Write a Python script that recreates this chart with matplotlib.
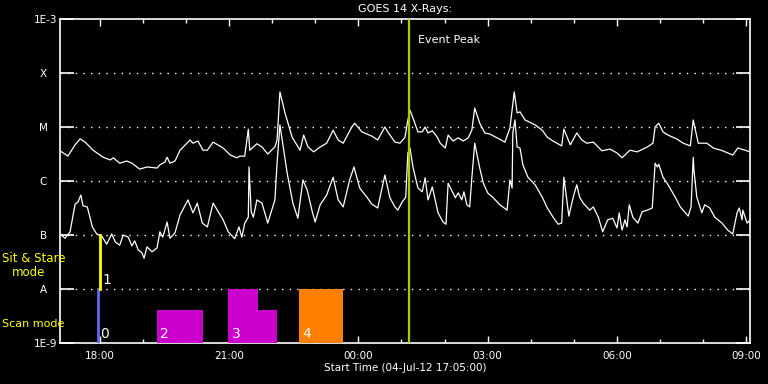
import numpy as np
import matplotlib
matplotlib.use('Agg')
import matplotlib.pyplot as plt
from matplotlib.patches import Rectangle

# GOES 14 X-ray flux, time in minutes after 04-Jul-12 17:05, flux as log10(W/m^2)
t_long = [0, 11, 21, 28, 35, 46, 60, 70, 74, 83, 93, 100, 111, 121, 135, 139, 146, 149, 153, 160,
          167, 181, 185, 192, 199, 205, 213, 227, 237, 246, 250, 257, 262, 264, 274, 281, 289, 299,
          302, 306, 313, 323, 334, 339, 345, 353, 362, 371, 380, 387, 394, 406, 410, 420, 427, 434,
          442, 452, 456, 466, 473, 480, 484, 487, 491, 498, 504, 508, 512, 518, 525, 529, 536, 540,
          547, 554, 561, 568, 573, 577, 584, 591, 598, 608, 619, 626, 632, 636, 640, 647, 661, 671,
          678, 686, 698, 701, 710, 719, 726, 733, 742, 754, 765, 775, 782, 789, 793, 803, 817, 825,
          828, 833, 839, 846, 858, 867, 877, 881, 888, 900, 909, 922, 936, 943, 953, 960]
f_long = [-5.44, -5.54, -5.33, -5.22, -5.28, -5.43, -5.56, -5.61, -5.57, -5.67, -5.63, -5.67, -5.78,
          -5.74, -5.76, -5.70, -5.65, -5.56, -5.67, -5.63, -5.43, -5.24, -5.30, -5.26, -5.43, -5.43,
          -5.28, -5.39, -5.52, -5.57, -5.54, -5.54, -5.04, -5.43, -5.31, -5.37, -5.50, -5.37, -5.24,
          -4.35, -4.74, -5.19, -5.43, -5.15, -5.37, -5.46, -5.37, -5.30, -5.06, -5.24, -5.30, -5.00,
          -4.93, -5.09, -5.13, -5.17, -5.24, -5.00, -5.09, -5.28, -5.30, -5.19, -4.87, -4.69, -4.83,
          -5.09, -5.09, -5.00, -5.11, -5.07, -5.19, -5.30, -5.39, -5.15, -5.26, -5.20, -5.26, -5.20,
          -5.06, -4.65, -4.93, -5.11, -5.13, -5.20, -5.28, -5.02, -4.35, -4.74, -4.72, -4.87, -4.96,
          -5.06, -5.19, -5.26, -5.35, -5.04, -5.33, -5.11, -5.24, -5.30, -5.28, -5.44, -5.41, -5.48,
          -5.57, -5.48, -5.43, -5.46, -5.37, -5.30, -5.00, -4.93, -5.09, -5.15, -5.22, -5.30, -5.35,
          -4.87, -5.30, -5.30, -5.39, -5.44, -5.52, -5.39, -5.43, -5.46]

t_short = [0, 7, 14, 21, 25, 29, 32, 38, 45, 51, 58, 65, 72, 77, 83, 88, 95, 100, 104, 109, 114, 117,
           121, 128, 135, 139, 143, 149, 153, 160, 167, 178, 185, 191, 198, 205, 213, 227, 234, 243,
           249, 253, 257, 262, 263, 266, 269, 274, 281, 289, 299, 302, 306, 316, 324, 331, 338, 344,
           351, 355, 362, 371, 380, 387, 394, 403, 409, 417, 427, 434, 442, 452, 459, 466, 470, 476,
           481, 484, 487, 491, 498, 504, 508, 512, 518, 522, 526, 533, 537, 540, 550, 554, 559, 562,
           566, 570, 573, 577, 584, 589, 595, 602, 612, 622, 626, 629, 630, 633, 636, 640, 644, 651,
           661, 671, 678, 686, 693, 698, 701, 708, 714, 719, 723, 728, 737, 742, 749, 755, 762, 769,
           775, 778, 782, 786, 789, 792, 797, 804, 810, 817, 824, 828, 831, 833, 839, 846, 856, 863,
           870, 874, 878, 881, 882, 886, 893, 897, 904, 911, 921, 929, 936, 942, 945, 949, 950, 956, 960]
f_short = [-6.98, -7.06, -6.94, -6.43, -6.39, -6.26, -6.46, -6.48, -6.85, -6.98, -7.02, -7.17, -6.98,
           -7.13, -7.19, -7.00, -7.04, -7.20, -7.11, -7.28, -7.33, -7.43, -7.22, -7.31, -7.24, -6.94,
           -7.04, -6.76, -7.06, -6.96, -6.63, -6.35, -6.59, -6.41, -6.78, -6.85, -6.41, -6.72, -6.94,
           -7.07, -6.85, -7.04, -6.78, -6.67, -5.74, -6.57, -6.67, -6.35, -6.41, -6.78, -6.35, -5.67,
           -4.96, -5.85, -6.41, -6.69, -5.98, -6.17, -6.57, -6.76, -6.44, -6.26, -5.93, -6.35, -6.48,
           -5.98, -5.74, -6.13, -6.30, -6.43, -6.50, -5.89, -6.31, -6.48, -6.54, -6.39, -6.30, -5.48,
           -5.39, -5.74, -6.13, -6.20, -5.94, -6.35, -6.11, -6.35, -6.59, -6.76, -6.80, -6.04, -6.31,
           -6.22, -6.35, -6.20, -6.44, -6.48, -5.94, -5.30, -5.76, -6.04, -6.22, -6.30, -6.44, -6.54,
           -5.98, -6.13, -5.11, -4.87, -5.37, -5.39, -5.70, -5.93, -6.07, -6.30, -6.50, -6.67, -6.80,
           -6.78, -5.93, -6.65, -6.30, -6.07, -6.30, -6.41, -6.54, -6.48, -6.67, -6.94, -6.72, -6.69,
           -6.87, -6.59, -6.91, -6.72, -6.85, -6.44, -6.67, -6.78, -6.57, -6.54, -6.50, -5.67, -5.74,
           -5.69, -5.93, -6.07, -6.30, -6.48, -6.59, -6.65, -6.48, -5.56, -5.80, -6.30, -6.59, -6.44,
           -6.50, -6.67, -6.78, -6.91, -6.98, -6.59, -6.50, -6.72, -6.54, -6.78, -6.72]

# observing modes: (start min, end min, top log flux, colour, label)
mode_blocks = [(135, 199, -8.39, '#cc00cc', '2'),
               (234, 275, -8.0, '#cc00cc', '3'),
               (275, 302, -8.39, '#cc00cc', None),
               (333, 394, -8.0, '#ff8000', '4')]
scan_line_t = 53
stare_line_t = 56
event_peak_t = 486

start_h = 17 + 5 / 60.0
def to_h(m):
    return start_h + np.asarray(m) / 60.0

plt.rcParams['font.family'] = 'DejaVu Sans'
fig = plt.figure(figsize=(7.68, 3.84), dpi=100, facecolor='black')
ax = fig.add_axes([60 / 768, 1 - 343 / 384, 690 / 768, 324 / 384], facecolor='black')
ax.set_yscale('log')
ax.set_xlim(start_h, start_h + 16)
ax.set_ylim(1e-9, 1e-3)

# class levels, dotted
for lev in [1e-8, 1e-7, 1e-6, 1e-5, 1e-4]:
    ax.axhline(lev, color='white', lw=1, ls=(0, (1, 4.5)))

ax.plot(to_h(t_long), 10 ** np.array(f_long), color='white', lw=0.9)
ax.plot(to_h(t_short), 10 ** np.array(f_short), color='white', lw=0.9)

# mode blocks
for t0, t1, top, c, lab in mode_blocks:
    ax.add_patch(Rectangle((to_h(t0), 1e-9), (t1 - t0) / 60.0, 10 ** top - 1e-9,
                           facecolor=c, edgecolor='none', zorder=3))
    if lab:
        ax.text(to_h(t0) + 0.08, 1.25e-9, lab, color='white', fontsize=10, zorder=4)

ax.plot([to_h(scan_line_t)] * 2, [1e-9, 1e-8], color='#6666ff', lw=2, zorder=4)
ax.plot([to_h(stare_line_t)] * 2, [1e-8, 1e-7], color='#ffff00', lw=2, zorder=4)
ax.text(to_h(scan_line_t) + 0.04, 1.25e-9, '0', color='white', fontsize=10, zorder=5)
ax.text(to_h(stare_line_t) + 0.04, 1.25e-8, '1', color='white', fontsize=10, zorder=5)

ax.axvline(to_h(event_peak_t), color='#a0d000', lw=1.6, zorder=4)
ax.text(to_h(event_peak_t) + 0.2, 4e-4, 'Event Peak', color='white', fontsize=8, va='center')

# axes styling
for s in ax.spines.values():
    s.set_color('white')
    s.set_linewidth(1.2)
ax.set_yticks([1e-9, 1e-8, 1e-7, 1e-6, 1e-5, 1e-4, 1e-3])
ax.set_yticklabels(['1E-9', 'A   ', 'B   ', 'C   ', 'M   ', 'X   ', '1E-3'])
ax.yaxis.set_minor_locator(matplotlib.ticker.NullLocator())
ax.set_xticks([18, 21, 24, 27, 30, 33])
ax.set_xticklabels(['18:00', '21:00', '00:00', '03:00', '06:00', '09:00'])
ax.set_xticks(np.arange(18, 34, 1), minor=True)
ax.tick_params(axis='y', which='major', direction='in', length=10, width=1.2,
               colors='white', labelsize=7.5, right=True, pad=2)
ax.tick_params(axis='x', which='major', direction='in', length=5, width=1,
               colors='white', labelsize=7.5, top=True, pad=6)
ax.tick_params(axis='x', which='minor', direction='in', length=3, width=1,
               colors='white', top=True)
ax.set_xlabel('Start Time (04-Jul-12 17:05:00)', color='white', fontsize=7.5, labelpad=1)
ax.set_title('GOES 14 X-Rays:', color='white', fontsize=8, pad=5)

fig.text(2 / 768, 1 - 258 / 384, 'Sit & Stare', color='#ffff00', fontsize=8.5, va='center')
fig.text(12 / 768, 1 - 272 / 384, 'mode', color='#ffff00', fontsize=8.5, va='center')
fig.text(2 / 768, 1 - 324 / 384, 'Scan mode', color='#ffff00', fontsize=8, va='center')

fig.savefig('out.png', dpi=100, facecolor='black')
